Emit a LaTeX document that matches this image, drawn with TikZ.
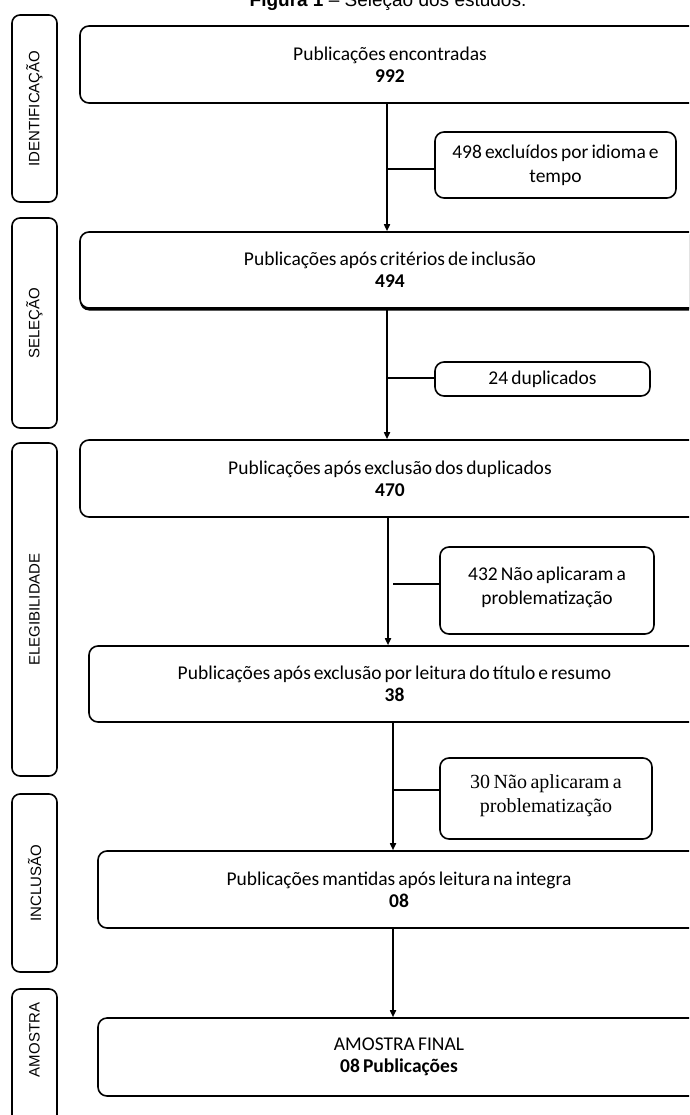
\documentclass[tikz,border=0pt]{standalone}
\usepackage{fontspec}
\setmainfont[WordSpace=0.7]{Carlito}
\newfontfamily\arialf{Liberation Sans}
\newfontfamily\timesf[WordSpace=0.7]{Liberation Serif}
\usetikzlibrary{arrows.meta,shadows}
\tikzset{
  mainbox/.style={draw, line width=1.6pt, rounded corners=9pt, fill=white, align=center,
    inner sep=0pt, font=\fontsize{19.5}{22}\selectfont},
  exclbox/.style={draw, line width=1.6pt, rounded corners=9pt, fill=white, align=center,
    inner sep=0pt, font=\fontsize{19.5}{24}\selectfont},
  phasebox/.style={draw, line width=1.6pt, rounded corners=8pt, rotate=90, inner sep=0pt,
    minimum height=45pt, font=\arialf\fontsize{15}{17}\selectfont},
  arr/.style={line width=1.6pt, -{Triangle[length=7pt,width=6pt]}},
  conn/.style={line width=1.6pt},
}
\begin{document}
\begin{tikzpicture}[x=1pt,y=1pt]
\useasboundingbox (0,0) rectangle (689,-1115);
\clip (0,0) rectangle (689,-1115);
\fill[white] (0,0) rectangle (689,-1115);

% caption (partly cut at top, as in the reference)
\node[anchor=base, font=\arialf\fontsize{19}{22}\selectfont] (cap) at (388,-7)
  {\textbf{Figura 1} – Seleção dos estudos.};

% phase labels
\node[phasebox, minimum width=187pt] (p1) at (34.5,-108.5) {IDENTIFICAÇÃO};
\node[phasebox, minimum width=210pt] (p2) at (34.5,-323) {SELEÇÃO};
\node[phasebox, minimum width=333pt] (p3) at (34.5,-609.5) {ELEGIBILIDADE};
\node[phasebox, minimum width=178pt] (p4) at (34.5,-883) {INCLUSÃO};
\node[phasebox, minimum width=141pt] (p5) at (34.5,-1059.5) {\hspace*{39pt}AMOSTRA};

% trunk x positions
\coordinate (t1) at (387,0);
\coordinate (t3) at (388,0);
\coordinate (t4) at (393,0);

% main boxes
\node[mainbox, minimum width=620pt, minimum height=77pt] (b1) at (390,-64.5)
  {Publicações encontradas\\\textbf{992}};
\node[mainbox, minimum width=620pt, minimum height=76pt,
  drop shadow={shadow xshift=0pt, shadow yshift=-2.5pt, fill=black, opacity=1}] (b2) at (390,-270)
  {Publicações após critérios de inclusão\\\textbf{494}};
\node[mainbox, minimum width=620pt, minimum height=77pt] (b3) at (390,-478.5)
  {Publicações após exclusão dos duplicados\\\textbf{470}};
\node[mainbox, minimum width=611pt, minimum height=76pt] (b4) at (394.5,-684)
  {Publicações após exclusão por leitura do título e resumo\\\textbf{38}};
\node[mainbox, minimum width=602pt, minimum height=77pt] (b5) at (399,-889.5)
  {Publicações mantidas após leitura na integra\\\textbf{08}};
\node[mainbox, minimum width=602pt, minimum height=78pt] (b6) at (399,-1057)
  {AMOSTRA FINAL\\\textbf{08 Publicações}};

% exclusion boxes
\node[exclbox, minimum width=241pt, minimum height=66pt] (s1) at (555.5,-165)
  {498 excluídos por idioma e\\tempo};
\node[exclbox, minimum width=215pt, minimum height=34pt] (s2) at (542.5,-379)
  {24 duplicados};
\node[exclbox, minimum width=214pt, minimum height=87pt] (s3) at (547,-590.5)
  {432 Não aplicaram a\\problematização\\[-15pt]};
\node[exclbox, minimum width=212pt, minimum height=81pt, font=\timesf\fontsize{20}{24}\selectfont] (s4) at (546,-798.5)
  {30 Não aplicaram a\\problematização\\[-14pt]};

% trunk arrows
\draw[arr] (b1.south -| t1) -- (b2.north -| t1);
\draw[arr] (b2.south -| t1) -- (b3.north -| t1);
\draw[arr] (b3.south -| t3) -- (b4.north -| t3);
\draw[arr] (b4.south -| t4) -- (b5.north -| t4);
\draw[arr] (b5.south -| t4) -- (b6.north -| t4);

% side connectors
\draw[conn] ([yshift=-4pt]s1.west) -- ([yshift=-4pt]s1.west -| t1);
\draw[conn] ([yshift=1pt]s2.west) -- ([yshift=1pt]s2.west -| t1);
\draw[conn] ([yshift=6.5pt]s3.west) -- ([yshift=6.5pt]s3.west -| t4);
\draw[conn] ([yshift=8.5pt]s4.west) -- ([yshift=8.5pt]s4.west -| t4);
\end{tikzpicture}
\end{document}
